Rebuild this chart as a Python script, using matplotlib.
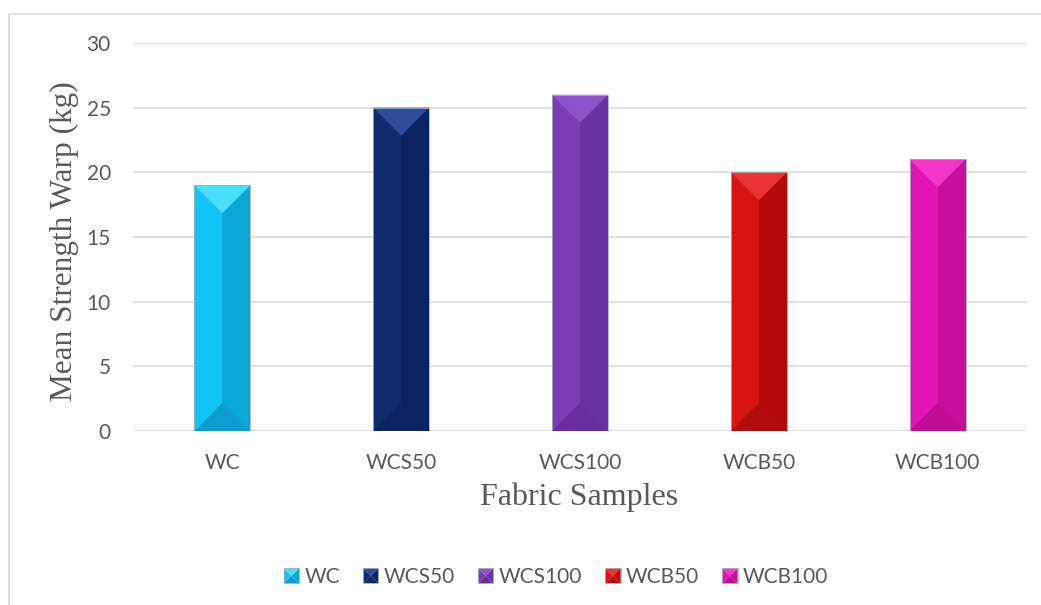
import numpy as np
import matplotlib.pyplot as plt
from matplotlib.patches import Polygon, Rectangle
from matplotlib.legend_handler import HandlerBase

# Mean warp strength per fabric sample
samples = ['WC', 'WCS50', 'WCS100', 'WCB50', 'WCB100']
strength = [19, 25, 26, 20, 21]

# face shades for each bar: left half, right half, top bevel, bottom bevel
left_cols = ['#14C4F6', '#0F2B6E', '#7C3CB6', '#D61414', '#E314B4']
right_cols = ['#0AA7D9', '#0A2262', '#6C2FA4', '#B60A0A', '#C70E9C']
top_cols = ['#48DEFC', '#2D4E96', '#8F52C8', '#EA3434', '#F236CA']
bot_cols = ['#0B9ECF', '#0B2360', '#692DA0', '#B30C0C', '#BF0C95']

W, H = 1041, 605
fig = plt.figure(figsize=(W / 100, H / 100), dpi=100)
fig.patches.append(Rectangle((9 / W, -0.1), 1.2, 1 - 14 / H + 0.1,
                             transform=fig.transFigure, fill=False,
                             edgecolor='#D9D9D9', linewidth=1.2))

ax = fig.add_axes([133 / W, 1 - 431 / H, (1027 - 133) / W, (431 - 43) / H])
x = np.arange(len(samples))
bw = 0.313
ax.set_xlim(-0.5, len(samples) - 0.5)
ax.set_ylim(0, 30)

# depth of the bevel triangles in data units (half the bar width in pixels)
px_w = ax.transData.transform((bw, 0))[0] - ax.transData.transform((0, 0))[0]
px_per_unit = ax.transData.transform((0, 1))[1] - ax.transData.transform((0, 0))[1]
depth = (px_w / 2) / px_per_unit


def bevel(ax, xc, h, w, d, c_left, c_right, c_top, c_bot, edge):
    l, r = xc - w / 2, xc + w / 2
    ax.add_patch(Rectangle((l, 0), w, h, facecolor=c_left, edgecolor='none', zorder=3))
    ax.add_patch(Rectangle((xc, 0), w / 2, h, facecolor=c_right, edgecolor='none', zorder=3))
    ax.add_patch(Polygon([(l, h), (r, h), (xc, h - d)], facecolor=c_top,
                         edgecolor='none', zorder=4))
    ax.add_patch(Polygon([(l, 0), (r, 0), (xc, d)], facecolor=c_bot,
                         edgecolor='none', zorder=4))
    ax.add_patch(Rectangle((l, 0), w, h, fill=False, edgecolor=edge,
                           linewidth=0.6, zorder=5))


for i, v in enumerate(strength):
    bevel(ax, x[i], v, bw, depth, left_cols[i], right_cols[i],
          top_cols[i], bot_cols[i], '#A8B0B8')

ax.set_yticks(range(0, 31, 5))
ax.grid(axis='y', color='#D9D9D9', linewidth=1.2, zorder=0)
ax.set_axisbelow(True)
for s in ax.spines.values():
    s.set_visible(False)
ax.tick_params(length=0, labelsize=15, labelcolor='#595959')
ax.tick_params(axis='x', pad=16)
ax.tick_params(axis='y', pad=16)
ax.set_xticks(x)
ax.set_xticklabels(samples, fontfamily='Lato')
for t in ax.get_yticklabels():
    t.set_fontfamily('Lato')

fig.text(64 / W, 1 - 241 / H, 'Mean Strength Warp (kg)', rotation=90,
         ha='center', va='center', fontfamily='Liberation Serif',
         fontsize=22.5, color='#595959')
fig.text(579 / W, 1 - 497 / H, 'Fabric Samples', ha='center', va='center',
         fontfamily='Liberation Serif', fontsize=23, color='#595959')


class BevelHandler(HandlerBase):
    def create_artists(self, legend, orig, xd, yd, width, height, fontsize, trans):
        c = orig.cols
        s = min(width, height)
        x0 = -xd + (width - s) / 2
        y0 = -yd + (height - s) / 2
        xc, yc = x0 + s / 2, y0 + s / 2
        pts = {
            'left': [(x0, y0), (x0, y0 + s), (xc, yc)],
            'right': [(x0 + s, y0), (x0 + s, y0 + s), (xc, yc)],
            'top': [(x0, y0 + s), (x0 + s, y0 + s), (xc, yc)],
            'bot': [(x0, y0), (x0 + s, y0), (xc, yc)],
        }
        arts = []
        for key, col in zip(['left', 'right', 'top', 'bot'], c):
            arts.append(Polygon(pts[key], facecolor=col, edgecolor='none',
                                transform=trans))
        arts.append(Rectangle((x0, y0), s, s, fill=False, edgecolor='#A8B0B8',
                              linewidth=0.6, transform=trans))
        return arts


handles = []
for i in range(len(samples)):
    h = Rectangle((0, 0), 1, 1)
    h.cols = (left_cols[i], right_cols[i], top_cols[i], bot_cols[i])
    handles.append(h)

leg = fig.legend(handles, samples, loc='center', bbox_to_anchor=(556 / W, 1 - 577 / H),
                 ncol=5, frameon=False, handler_map={Rectangle: BevelHandler()},
                 handlelength=0.75, handleheight=0.75, handletextpad=0.25,
                 columnspacing=1.1, prop={'family': 'Lato', 'size': 15})
for t in leg.get_texts():
    t.set_color('#595959')

fig.savefig('out.png', dpi=100)
